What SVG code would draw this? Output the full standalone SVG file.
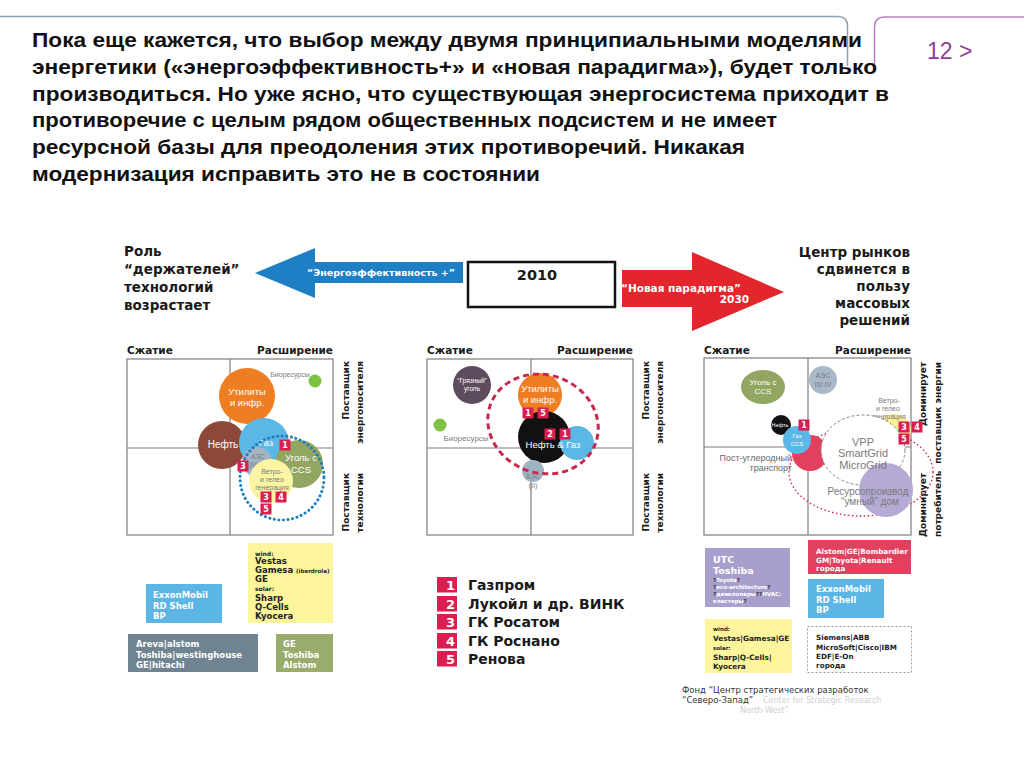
<svg xmlns="http://www.w3.org/2000/svg" width="1024" height="768" viewBox="0 0 1024 768">
<defs>
<style>
.t{font-family:"Liberation Sans",Arial,sans-serif;font-weight:bold;font-size:21px;fill:#111}
.h{font-family:"DejaVu Sans",sans-serif;font-weight:bold;fill:#1a1a1a}
.q{fill:none;stroke:#7d7d7d;stroke-width:1.2}
.sl{font-family:"DejaVu Sans",sans-serif;font-weight:bold;font-size:9px;fill:#1a1a1a}
.w{font-family:"Liberation Sans",Arial,sans-serif;fill:#fff;text-anchor:middle}
.g{font-family:"Liberation Sans",Arial,sans-serif;fill:#7a7a7a;text-anchor:middle}
.ge{font-family:"Liberation Sans",Arial,sans-serif;fill:#666;text-anchor:end}
.bd{fill:#d81f4f}
.bn{font-family:"DejaVu Sans",sans-serif;font-weight:bold;font-size:8px;fill:#fff;text-anchor:middle}
.bx{font-family:"DejaVu Sans",sans-serif;font-weight:bold;fill:#fff}
.bk{font-family:"DejaVu Sans",sans-serif;font-weight:bold;fill:#222}
.ln{font-family:"DejaVu Sans",sans-serif;font-weight:bold;font-size:14px;fill:#1a1a1a}
.lb{font-family:"DejaVu Sans",sans-serif;font-weight:bold;font-size:13px;fill:#fff;text-anchor:end}
</style>
</defs>
<rect width="1024" height="768" fill="#fff"/>

<g id="header">
<path d="M0,16.5 H838 Q847.5,16.5 847.5,26 V66" fill="none" stroke="#8ea2b2" stroke-width="1.5"/>
<path d="M874.5,66 V27 Q874.5,17 885,17 H1024" fill="none" stroke="#b382bb" stroke-width="1.5"/>
<text x="927" y="59" font-family="Liberation Sans, Arial, sans-serif" font-size="23" fill="#8e3e94">12 &gt;</text>
<text class="t" x="32" y="47" textLength="830" lengthAdjust="spacingAndGlyphs">Пока еще кажется, что выбор между двумя принципиальными моделями</text>
<text class="t" x="32" y="74" textLength="845" lengthAdjust="spacingAndGlyphs">энергетики («энергоэффективность+» и «новая парадигма»), будет только</text>
<text class="t" x="32" y="101" textLength="857" lengthAdjust="spacingAndGlyphs">производиться. Но уже ясно, что существующая энергосистема приходит в</text>
<text class="t" x="32" y="127" textLength="745" lengthAdjust="spacingAndGlyphs">противоречие с целым рядом общественных подсистем и не имеет</text>
<text class="t" x="32" y="154" textLength="713" lengthAdjust="spacingAndGlyphs">ресурсной базы для преодоления этих противоречий. Никакая</text>
<text class="t" x="32" y="181" textLength="508" lengthAdjust="spacingAndGlyphs">модернизация исправить это не в состоянии</text>
</g>

<g id="label-left">
<text class="h" font-size="13.5" x="124" y="256">Роль</text>
<text class="h" font-size="13.5" x="124" y="274">“держателей”</text>
<text class="h" font-size="13.5" x="124" y="292">технологий</text>
<text class="h" font-size="13.5" x="124" y="310">возрастает</text>
</g>

<g id="label-right" text-anchor="end">
<text class="h" font-size="13.5" x="910" y="257">Центр рынков</text>
<text class="h" font-size="13.5" x="910" y="274">сдвинется в</text>
<text class="h" font-size="13.5" x="910" y="291">пользу</text>
<text class="h" font-size="13.5" x="910" y="308">массовых</text>
<text class="h" font-size="13.5" x="910" y="325">решений</text>
</g>

<g id="year-2010">
<rect x="468" y="262" width="147" height="45" fill="#fff" stroke="#111" stroke-width="2.5"/>
<text class="h" font-size="14.5" x="537" y="280" text-anchor="middle">2010</text>
</g>

<g id="connectors">
<polygon points="255,273 315,248 315,262 463,262 463,283 315,283 315,298" fill="#1f7fc4"/>
<text class="bx" font-size="9.5" x="381" y="276" text-anchor="middle">“Энергоэффективность +”</text>
<polygon points="622,270 692,270 692,252 784,292 692,331 692,307 622,307" fill="#e3262b"/>
<text class="bx" font-size="10.5" x="621" y="291.5">“Новая парадигма”</text>
<text class="bx" font-size="10.5" x="749" y="303" text-anchor="end">2030</text>
</g>

<g id="quadrant-left">
<rect x="127" y="359" width="206" height="176" class="q"/>
<line x1="230" y1="359" x2="230" y2="535" class="q"/>
<line x1="127" y1="448" x2="333" y2="448" class="q"/>
<text class="h" font-size="10.5" x="127" y="354">Сжатие</text>
<text class="h" font-size="10.5" x="333" y="354" text-anchor="end">Расширение</text>
<text class="sl" transform="translate(349,361) rotate(-90)" text-anchor="end">Поставщик</text>
<text class="sl" transform="translate(363,361) rotate(-90)" text-anchor="end">энергоносителя</text>
<text class="sl" transform="translate(349,473) rotate(-90)" text-anchor="end">Поставщик</text>
<text class="sl" transform="translate(363,473) rotate(-90)" text-anchor="end">технологии</text>
<circle cx="315" cy="381" r="6.5" fill="#7cc242"/>
<text class="g" font-size="7" x="290" y="377">Биоресурсы</text>
<circle cx="247" cy="396" r="28" fill="#ef7d22"/>
<text class="w" font-size="9.5" x="247" y="395">Утилиты</text>
<text class="w" font-size="9.5" x="247" y="406">и инфр.</text>
<circle cx="222" cy="445" r="24" fill="#8c4838"/>
<text class="w" font-size="10" x="223" y="448">Нефть</text>
<circle cx="264" cy="443" r="25" fill="#5ab7e6"/>
<text class="w" font-size="9.5" x="266" y="446">Газ</text>
<circle cx="299" cy="464" r="24" fill="#92a661"/>
<text class="w" font-size="9.5" x="301" y="461">Уголь с</text>
<text class="w" font-size="9.5" x="301" y="473">CCS</text>
<circle cx="257" cy="462" r="15" fill="#a2b5c5"/>
<text class="g" font-size="6.5" x="258" y="459" fill="#555">АЭС</text>
<text class="g" font-size="6.5" x="258" y="467" fill="#555">(III/IV)</text>
<circle cx="271" cy="481" r="22" fill="#fbf5a3"/>
<text class="g" font-size="7" x="272" y="474">Ветро-</text>
<text class="g" font-size="7" x="272" y="482">и гелео</text>
<text class="g" font-size="7" x="272" y="490">генерация</text>
<circle cx="282" cy="478" r="42" fill="none" stroke="#1e7fc0" stroke-width="3" stroke-dasharray="0.1 4.5" stroke-linecap="round"/>
<rect class="bd" x="279.5" y="439.5" width="11" height="11"/><text class="bn" x="285" y="448">1</text>
<rect class="bd" x="237.5" y="460.5" width="11" height="11"/><text class="bn" x="243" y="469">3</text>
<rect class="bd" x="260.5" y="491.5" width="11" height="11"/><text class="bn" x="266" y="500">3</text>
<rect class="bd" x="275.5" y="491.5" width="11" height="11"/><text class="bn" x="281" y="500">4</text>
<rect class="bd" x="260.5" y="503.5" width="11" height="11"/><text class="bn" x="266" y="512">5</text>
</g>

<g id="quadrant-middle">
<rect x="427" y="359" width="206" height="176" class="q"/>
<line x1="531" y1="359" x2="531" y2="535" class="q"/>
<line x1="427" y1="448" x2="633" y2="448" class="q"/>
<text class="h" font-size="10.5" x="427" y="354">Сжатие</text>
<text class="h" font-size="10.5" x="633" y="354" text-anchor="end">Расширение</text>
<text class="sl" transform="translate(649,361) rotate(-90)" text-anchor="end">Поставщик</text>
<text class="sl" transform="translate(663,361) rotate(-90)" text-anchor="end">энергоносителя</text>
<text class="sl" transform="translate(649,473) rotate(-90)" text-anchor="end">Поставщик</text>
<text class="sl" transform="translate(663,473) rotate(-90)" text-anchor="end">технологии</text>
<circle cx="472" cy="385" r="19" fill="#5e4b5d"/>
<text class="w" font-size="6.5" x="472" y="383">“Грязный”</text>
<text class="w" font-size="6.5" x="472" y="391">уголь</text>
<circle cx="440" cy="425" r="6.5" fill="#7cc242"/>
<text class="g" font-size="8" x="466" y="441" fill="#666">Биоресурсы</text>
<circle cx="540" cy="395" r="22" fill="#ef7d22"/>
<circle cx="544" cy="437" r="26" fill="#111"/>
<circle cx="577" cy="443" r="17" fill="#5ab7e6"/>
<text class="w" font-size="9.5" x="540" y="392">Утилиты</text>
<text class="w" font-size="9.5" x="540" y="403">и инфр.</text>
<text class="w" font-size="9.5" x="553" y="448">Нефть &amp; Газ</text>
<circle cx="533" cy="471" r="11" fill="#9fb3c4"/>
<text class="g" font-size="7" x="533" y="479">АЭС</text>
<text class="g" font-size="7" x="533" y="488">(II)</text>
<ellipse cx="543" cy="424" rx="56" ry="49" transform="rotate(20 543 424)" fill="none" stroke="#c8284c" stroke-width="3" stroke-dasharray="6 4"/>
<rect class="bd" x="522.5" y="407.5" width="11" height="11"/><text class="bn" x="528" y="416">1</text>
<rect class="bd" x="537.5" y="407.5" width="11" height="11"/><text class="bn" x="543" y="416">5</text>
<rect class="bd" x="544.5" y="428.5" width="11" height="11"/><text class="bn" x="550" y="437">2</text>
<rect class="bd" x="559.5" y="428.5" width="11" height="11"/><text class="bn" x="565" y="437">1</text>
</g>

<g id="quadrant-right">
<rect x="704" y="358" width="207" height="177" class="q"/>
<line x1="808" y1="358" x2="808" y2="535" class="q"/>
<line x1="704" y1="447" x2="911" y2="447" class="q"/>
<text class="h" font-size="10.5" x="704" y="354">Сжатие</text>
<text class="h" font-size="10.5" x="911" y="354" text-anchor="end">Расширение</text>
<text class="sl" font-size="9.5" transform="translate(925.5,362) rotate(-90)" text-anchor="end">Доминирует</text>
<text class="sl" transform="translate(940.5,362) rotate(-90)" text-anchor="end">поставщик энергии</text>
<text class="sl" font-size="9.5" transform="translate(925.5,537) rotate(-90)">Доминирует</text>
<text class="sl" transform="translate(940.5,537) rotate(-90)">потребитель</text>
<ellipse cx="763" cy="387" rx="22" ry="17" fill="#92a661"/>
<text class="w" font-size="8" x="763" y="385">Уголь с</text>
<text class="w" font-size="8" x="763" y="394">CCS</text>
<circle cx="823" cy="380" r="14" fill="#a8b8c6"/>
<text class="g" font-size="7" x="823" y="378" fill="#555">АЭС</text>
<text class="g" font-size="7" x="823" y="387" fill="#555">III/ IV</text>
<ellipse cx="894" cy="430" rx="17" ry="16" fill="#fbf09a"/>
<text class="g" font-size="7" x="889" y="403">Ветро-</text>
<text class="g" font-size="7" x="888" y="411">и гелео</text>
<text class="g" font-size="7" x="889" y="419">генерация</text>
<ellipse cx="861" cy="472" rx="72" ry="44" fill="none" stroke="#c8284c" stroke-width="1.4" stroke-dasharray="1.5 2.5"/>
<circle cx="810" cy="453" r="18" fill="#e2405e"/>
<circle cx="781" cy="425" r="10" fill="#111"/>
<text class="w" font-size="5.5" x="780" y="427">Нефть</text>
<circle cx="797" cy="440" r="14" fill="#5ab7e6"/>
<text class="w" font-size="6" x="797" y="438">Газ</text>
<text class="w" font-size="6" x="797" y="446">CCS</text>
<ellipse cx="863" cy="450" rx="42" ry="35" fill="#fff" stroke="#8a8a8a" stroke-width="1" stroke-dasharray="3 2"/>
<circle cx="886" cy="490" r="27" fill="#b5a9d6"/>
<text class="g" font-size="11" x="863" y="446" fill="#555">VPP</text>
<text class="g" font-size="11" x="863" y="457" fill="#555">SmartGrid</text>
<text class="g" font-size="11" x="863" y="469" fill="#555">MicroGrid</text>
<text class="g" font-size="10" x="868" y="495" fill="#444">Ресурсопроизвод</text>
<text class="g" font-size="10" x="870" y="505" fill="#444">“умный” дом</text>
<text class="ge" font-size="9" x="792" y="461">Пост-углеродный</text>
<text class="ge" font-size="9" x="792" y="471">транспорт</text>
<rect class="bd" x="798.5" y="419.5" width="11" height="11"/><text class="bn" x="804" y="428">1</text>
<rect class="bd" x="898.5" y="421.5" width="11" height="11"/><text class="bn" x="904" y="430">3</text>
<rect class="bd" x="911.5" y="421.5" width="11" height="11"/><text class="bn" x="917" y="430">4</text>
<rect class="bd" x="898.5" y="433.5" width="11" height="11"/><text class="bn" x="904" y="442">5</text>
</g>

<g id="box-left-yellow">
<rect x="248" y="543" width="85" height="80" fill="#fdf59c"/>
<text class="bk" font-size="6" x="255" y="556">wind:</text>
<text class="bk" font-size="8.5" x="255" y="564">Vestas</text>
<text class="bk" font-size="8.5" x="255" y="573">Gamesa <tspan font-size="5.5">(iberdrola)</tspan></text>
<text class="bk" font-size="8.5" x="255" y="582">GE</text>
<text class="bk" font-size="6" x="255" y="591">solar:</text>
<text class="bk" font-size="8.5" x="255" y="601">Sharp</text>
<text class="bk" font-size="8.5" x="255" y="610">Q-Cells</text>
<text class="bk" font-size="8.5" x="255" y="619">Kyocera</text>
</g>
<g id="box-left-blue">
<rect x="146" y="584" width="76" height="39" fill="#5bb5e5"/>
<text class="bx" font-size="8.5" x="153" y="598">ExxonMobil</text>
<text class="bx" font-size="8.5" x="153" y="609">RD Shell</text>
<text class="bx" font-size="8.5" x="153" y="619">BP</text>
</g>
<g id="box-left-grey">
<rect x="128" y="634" width="130" height="38" fill="#6f8391"/>
<text class="bx" font-size="8.5" x="136" y="647">Areva|alstom</text>
<text class="bx" font-size="8.5" x="136" y="658">Toshiba|westinghouse</text>
<text class="bx" font-size="8.5" x="136" y="668">GE|hitachi</text>
</g>
<g id="box-left-green">
<rect x="276" y="634" width="57" height="38" fill="#9aac6c"/>
<text class="bx" font-size="8.5" x="283" y="647">GE</text>
<text class="bx" font-size="8.5" x="283" y="658">Toshiba</text>
<text class="bx" font-size="8.5" x="283" y="668">Alstom</text>
</g>

<g id="legend">
<rect class="bd" x="437" y="577" width="20" height="15.5"/><text class="lb" x="455" y="590">1</text>
<rect class="bd" x="437" y="596" width="20" height="15.5"/><text class="lb" x="455" y="609">2</text>
<rect class="bd" x="437" y="614" width="20" height="15.5"/><text class="lb" x="455" y="627">3</text>
<rect class="bd" x="437" y="633" width="20" height="15.5"/><text class="lb" x="455" y="646">4</text>
<rect class="bd" x="437" y="651" width="20" height="15.5"/><text class="lb" x="455" y="664">5</text>
<text class="ln" x="468" y="590">Газпром</text>
<text class="ln" x="468" y="608.5">Лукойл и др. ВИНК</text>
<text class="ln" x="468" y="626.5">ГК Росатом</text>
<text class="ln" x="468" y="645.5">ГК Роснано</text>
<text class="ln" x="468" y="664">Ренова</text>
</g>

<g id="box-right-lavender">
<rect x="705" y="548" width="85" height="59" fill="#a99fcc"/>
<text class="bx" font-size="9.5" x="713" y="563">UTC</text>
<text class="bx" font-size="9.5" x="713" y="574">Toshiba</text>
<text class="bx" font-size="5.5" x="713" y="582"><tspan fill="#333">?</tspan>Toyota<tspan fill="#333">?</tspan></text>
<text class="bx" font-size="5.5" x="713" y="589"><tspan fill="#333">?</tspan>eco-architecture<tspan fill="#333">?</tspan></text>
<text class="bx" font-size="5.5" x="713" y="596"><tspan fill="#333">?</tspan>девелоперы<tspan fill="#333">??</tspan>HVAC:</text>
<text class="bx" font-size="5.5" x="713" y="603">кластеры<tspan fill="#333">?</tspan></text>
</g>
<g id="box-right-red">
<rect x="808" y="540" width="103" height="34" fill="#e1415f"/>
<text class="bx" font-size="7.2" x="816" y="554">Alstom|GE|Bombardier</text>
<text class="bx" font-size="7.2" x="816" y="562.5">GM|Toyota|Renault</text>
<text class="bx" font-size="7.2" x="816" y="571">города</text>
</g>
<g id="box-right-blue">
<rect x="808" y="579" width="76" height="39" fill="#5bb5e5"/>
<text class="bx" font-size="8.5" x="816" y="592">ExxonMobil</text>
<text class="bx" font-size="8.5" x="816" y="603">RD Shell</text>
<text class="bx" font-size="8.5" x="816" y="613">BP</text>
</g>
<g id="box-right-yellow">
<rect x="705" y="619" width="87" height="54" fill="#fdf59c"/>
<text class="bk" font-size="5.5" x="713" y="631">wind:</text>
<text class="bk" font-size="7.3" x="713" y="641">Vestas|Gamesa|GE</text>
<text class="bk" font-size="5.5" x="713" y="650">solar:</text>
<text class="bk" font-size="7.3" x="713" y="660">Sharp|Q-Cells|</text>
<text class="bk" font-size="7.3" x="713" y="669">Kyocera</text>
</g>
<g id="box-right-dashed">
<rect x="807.5" y="626.5" width="104" height="46" fill="#fff" stroke="#999" stroke-width="1" stroke-dasharray="2 2"/>
<text class="bk" font-size="7.2" x="816" y="640">Siemens|ABB</text>
<text class="bk" font-size="7.2" x="816" y="650">MicroSoft|Cisco|IBM</text>
<text class="bk" font-size="7.2" x="816" y="659">EDF|E-On</text>
<text class="bk" font-size="7.2" x="816" y="668">города</text>
</g>

<g id="footer" font-family="DejaVu Sans, sans-serif" font-size="8.5">
<text x="682" y="693" fill="#333">Фонд “Центр стратегических разработок</text>
<text x="682" y="703" fill="#333">“Северо-Запад”</text>
<text x="763" y="703" font-size="8" fill="#cfcfcf">Center for Strategic Research</text>
<text x="740" y="713" font-size="8" fill="#cfcfcf">North-West”</text>
</g>
</svg>
